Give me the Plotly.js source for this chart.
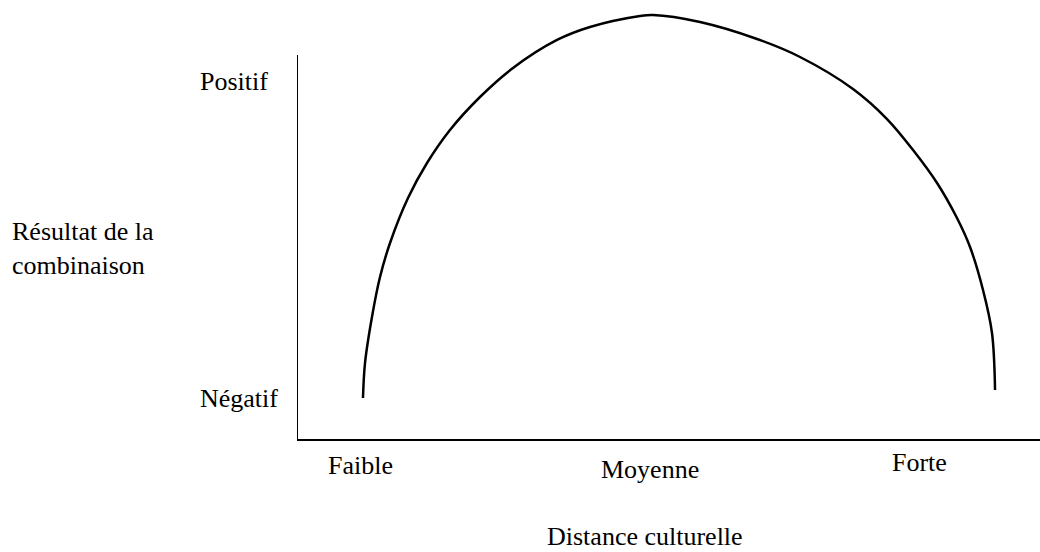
<!DOCTYPE html>
<html>
<head>
<meta charset="utf-8">
<script src="https://cdn.plot.ly/plotly-3.0.1.min.js"></script>
<style>
  html, body { margin: 0; padding: 0; background: #fff; }
  #chart { width: 1040px; height: 552px; }
</style>
</head>
<body>
<div id="chart"></div>
<script>
// Curve: "Résultat de la combinaison" vs "Distance culturelle" (schematic units)
const curveX = [0.910, 0.938, 1.034, 1.145, 1.283, 1.531, 1.793, 2.110, 2.524, 2.979, 3.586, 4.041, 4.731, 4.910, 5.559, 6.345, 6.938, 7.669, 8.138, 8.497, 8.828, 9.103, 9.283, 9.462, 9.586, 9.628];
const curveY = [0.945, 1.751, 2.811, 3.733, 4.516, 5.553, 6.359, 7.120, 7.880, 8.548, 9.194, 9.493, 9.747, 9.770, 9.608, 9.217, 8.802, 8.065, 7.373, 6.659, 5.899, 5.092, 4.424, 3.433, 2.442, 1.129];

// X category labels and their positions on the x scale
const xTickLabels = ["Faible", "Moyenne", "Forte"];
const xTickVals = [0.87, 4.87, 8.58];
// Y category labels and their positions on the y scale
const yTickLabels = ["Positif", "Négatif"];
const yTickVals = [8.23, 0.94];

const xTitle = "Distance culturelle";
const yTitle = "Résultat de la<br>combinaison";

const X_RANGE = [0, 10.248];
const Y_RANGE = [0, 10];
const toPaperX = v => (v - X_RANGE[0]) / (X_RANGE[1] - X_RANGE[0]);
const toPaperY = v => (v - Y_RANGE[0]) / (Y_RANGE[1] - Y_RANGE[0]);

const FONT = "Liberation Serif, Times New Roman, serif";
const fontSize = 26;
const txtFont = { family: FONT, size: fontSize, color: "#000" };

const traces = [{
  type: "scatter",
  mode: "lines",
  x: curveX,
  y: curveY,
  line: { color: "#000", width: 2.5, shape: "spline", smoothing: 1 },
  hoverinfo: "skip",
  showlegend: false
}];

const xLabelOffsets = [-0.62, -0.71, -0.53];
const annotations = [];
xTickLabels.forEach((t, i) => annotations.push({
  text: t, x: toPaperX(xTickVals[i]), y: toPaperY(xLabelOffsets[i]),
  xref: "paper", yref: "paper",
  showarrow: false, xanchor: "center", yanchor: "middle", font: txtFont
}));
yTickLabels.forEach((t, i) => annotations.push({
  text: t, x: toPaperX(-1.37), y: toPaperY(yTickVals[i]),
  xref: "paper", yref: "paper",
  showarrow: false, xanchor: "left", yanchor: "middle", font: txtFont
}));
annotations.push({
  text: yTitle, x: toPaperX(-3.96), y: toPaperY(4.4),
  xref: "paper", yref: "paper",
  showarrow: false, xanchor: "left", yanchor: "middle", align: "left", font: txtFont
});
annotations.push({
  text: xTitle, x: toPaperX(4.8), y: toPaperY(-2.25),
  xref: "paper", yref: "paper",
  showarrow: false, xanchor: "center", yanchor: "middle", font: txtFont
});

const layout = {
  width: 1040, height: 552,
  margin: { l: 297, r: 0, t: 5, b: 113, pad: 0 },
  paper_bgcolor: "#fff", plot_bgcolor: "#fff",
  font: txtFont,
  xaxis: {
    range: X_RANGE, showgrid: false, zeroline: false,
    showline: true, linecolor: "#000", linewidth: 2,
    showticklabels: false, ticks: "", fixedrange: true
  },
  yaxis: {
    range: Y_RANGE, showgrid: false, zeroline: false,
    showline: false, showticklabels: false, ticks: "", fixedrange: true
  },
  shapes: [{
    type: "line", xref: "x", yref: "y",
    x0: 0, x1: 0, y0: 0, y1: 8.85,
    line: { color: "#000", width: 2 }
  }],
  annotations: annotations,
  showlegend: false
};

Plotly.newPlot("chart", traces, layout, { displayModeBar: false, staticPlot: true });
</script>
</body>
</html>
